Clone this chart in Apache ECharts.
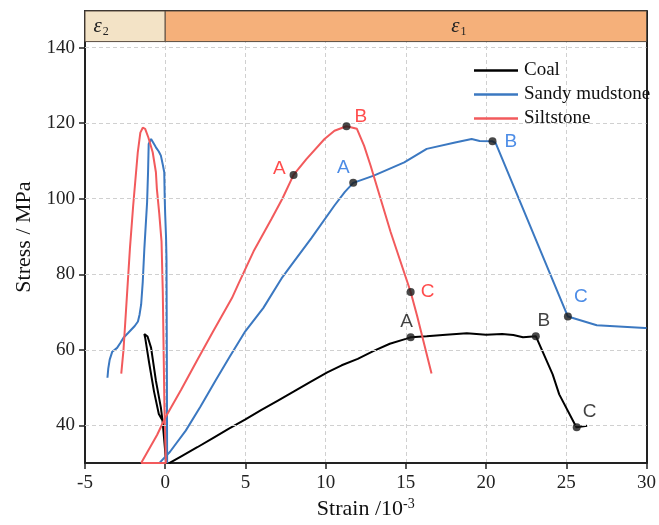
<!DOCTYPE html>
<html lang="en">
<head>
    <meta charset="UTF-8">
    <title>Stress-strain</title>
    <script src="https://cdn.jsdelivr.net/npm/echarts@6/dist/echarts.min.js"></script>
</head>
<body style="margin:0;background:#fff">
<div id="main" style="width:659px;height:525px"></div>
<script>
    // 曲线数据 [应变/10^-3, 应力/MPa]
    var coalPre = [[0.1,30],[0.04,31],[-0.06,37.7],[-0.27,44.7],[-0.58,51.8],[-0.88,60.5],[-1.1,63.5],[-1.3,64.2],[-1.35,64.5],
        [-1.25,63.2],[-1.0,56.5],[-0.7,49],[-0.4,43],[-0.17,41.3],[-0.08,37],[0.0,33],[0.05,30]];
    var coal = [[0.25,30],[1,31.8],[2,34.2],[3,36.7],[4,39.2],[5,41.6],[6,44.1],[7,46.5],[8,48.9],[9,51.4],[10.1,54],
        [11,55.9],[12,57.6],[13,59.7],[14,61.6],[15,62.9],[15.3,63.3],[16.3,63.6],[17.5,64],[18.8,64.4],[20,64],[21,64.2],
        [21.7,63.9],[22.3,63.3],[23.1,63.6],[24.15,53.5],[24.56,48.2],[25.63,39.5],[26.3,39.9]];
    var sandyPre = [[-3.6,52.6],[-3.55,55],[-3.46,57.4],[-3.3,59.5],[-3.0,60.5],[-2.8,61.8],[-2.6,63.2],[-2.3,64.5],[-1.9,66.3],
        [-1.7,67.5],[-1.6,69.3],[-1.5,72],[-1.4,78],[-1.3,86.8],[-1.2,94],[-1.13,99],[-1.07,107],[-1.03,114.5],[-0.88,115.8],
        [-0.58,113.6],[-0.4,112.5],[-0.27,111.4],[-0.15,109],[-0.06,107],[-0.03,100],[0,95.6],[0.05,90],[0.08,84.2],[0.1,60],[0.12,30]];
    var sandy = [[-0.37,30],[0.3,33],[1.28,38.6],[2.2,45],[3.13,51.8],[4,58],[4.99,64.9],[6.12,71.1],[7.25,78.9],[7.87,82.5],
        [9.1,89.5],[10.55,98.2],[11.2,101.8],[11.72,104.2],[13,106.1],[14.9,109.6],[16.3,113.2],[18.07,114.9],[19.1,115.8],
        [19.6,115.3],[20.4,115.2],[20.6,114.7],[25.1,68.8],[26.9,66.5],[29.9,65.8],[30,65.8]];
    var siltPre = [[-2.74,53.7],[-2.6,60],[-2.45,70],[-2.2,86.8],[-2.0,98],[-1.71,112.3],[-1.55,117.5],[-1.4,118.8],[-1.25,118.5],
        [-1.05,116.2],[-0.78,112.3],[-0.58,107],[-0.52,102.6],[-0.37,96],[-0.23,88.7],[-0.15,75],[-0.1,60],[-0.05,45],[0.04,30],[-1.5,30]];
    var silt = [[-1.5,30],[-0.5,37.5],[0,42],[1,49.5],[2,57.3],[3,65],[4.16,73.7],[4.57,77.5],[5.5,86],[6.63,94.7],[7.3,100],
        [8.0,106.3],[8.8,110.5],[9.93,115.8],[10.55,118.0],[11.3,119.2],[11.95,118.5],[12.4,114],[12.8,108.8],[14.05,91.2],
        [15.3,75.3],[15.7,69],[16.6,53.7]];

    // 特征点 A B C
    var ptNames = ['A', 'B', 'C'];
    var siltPtX = [8.0, 11.3, 15.3], siltPtY = [106.3, 119.2, 75.3];
    var sandyPtX = [11.72, 20.4, 25.1], sandyPtY = [104.2, 115.2, 68.8];
    var coalPtX = [15.3, 23.1, 25.65], coalPtY = [63.3, 63.6, 39.5];

    var yTicks = [40, 60, 80, 100, 120, 140];
    var bandBottom = 141.6, yMax = 149.7;

    var serif = "'Liberation Serif', 'Times New Roman', serif";
    var sans = "'Liberation Sans', Arial, sans-serif";
    var cCoal = '#000000', cSandy = '#3b78c1', cSilt = '#f25a5c';

    function pts(xs, ys, labelColor, labelCfg) {
        var out = [];
        for (var i = 0; i < xs.length; i++) {
            out.push({value: [xs[i], ys[i]], name: ptNames[i],
                label: Object.assign({show: true, formatter: '{b}', color: labelColor,
                    fontFamily: sans, fontSize: 19}, labelCfg[i])});
        }
        return out;
    }

    function lineSeries(name, data, color) {
        return {name: name, type: 'line', data: data, symbol: 'none', silent: true,
            lineStyle: {color: color, width: 2}, itemStyle: {color: color}, z: 3};
    }

    function bandLabel(sub, cfg) {
        return Object.assign({show: true, formatter: '{e|ε}{s|' + sub + '}',
            rich: {e: {fontFamily: serif, fontStyle: 'italic', fontSize: 21, color: '#222'},
                s: {fontFamily: serif, fontSize: 12, color: '#222', verticalAlign: 'bottom', padding: [12, 0, 0, 1]}}}, cfg);
    }

    // 上、右边框
    var frameAxis = {
        axisLine: {onZero: false, lineStyle: {color: '#222', width: 2}},
        axisTick: {show: false}, axisLabel: {show: false}, splitLine: {show: false}
    };

    var chart = echarts.init(document.getElementById('main'));
    var option = {
        backgroundColor: '#fff',
        animation: false,
        grid: {left: 85, right: 8, top: 11, bottom: 58},
        legend: {
            data: ['Coal', 'Sandy mudstone', 'Siltstone'],
            orient: 'vertical', left: 469, top: 56, itemWidth: 44, itemHeight: 2.5, itemGap: 5,
            icon: 'rect',
            textStyle: {fontFamily: serif, fontSize: 19, color: '#111', padding: [0, 0, 0, 1]}
        },
        xAxis: [{
            type: 'value', min: -5, max: 30, interval: 5,
            name: 'Strain /10{sup|-3}', nameLocation: 'middle', nameGap: 31,
            nameTextStyle: {fontFamily: serif, fontSize: 22, color: '#111',
                rich: {sup: {fontFamily: serif, fontSize: 14, color: '#111', verticalAlign: 'top', padding: [0, 0, 10, 0]}}},
            axisLine: {onZero: false, lineStyle: {color: '#222', width: 2}},
            axisTick: {inside: false, length: 6, lineStyle: {color: '#222', width: 1.5}},
            axisLabel: {fontFamily: serif, fontSize: 19, color: '#222', margin: 10},
            splitLine: {show: true, lineStyle: {type: [4, 3], color: '#d0d0d0', width: 1}}
        }, Object.assign({type: 'value', position: 'top', min: -5, max: 30}, frameAxis)],
        yAxis: [{
            type: 'value', min: 30, max: yMax,
            name: 'Stress / MPa', nameLocation: 'middle', nameGap: 48,
            nameTextStyle: {fontFamily: serif, fontSize: 22, color: '#111'},
            axisLine: {onZero: false, lineStyle: {color: '#222', width: 2}},
            axisTick: {inside: false, length: 6, lineStyle: {color: '#222', width: 1.5}, customValues: yTicks},
            axisLabel: {fontFamily: serif, fontSize: 19, color: '#222', margin: 10, customValues: yTicks},
            splitLine: {show: false}
        }, Object.assign({type: 'value', position: 'right', min: 30, max: yMax}, frameAxis)],
        series: [
            {
                type: 'line', data: [[-5, 30]], symbol: 'none', silent: true, z: 1,
                markLine: {
                    silent: true, symbol: 'none', label: {show: false},
                    lineStyle: {type: [4, 3], color: '#d0d0d0', width: 1},
                    data: yTicks.map(function (v) { return {yAxis: v}; })
                },
                markArea: {
                    silent: true,
                    itemStyle: {borderColor: '#5a4d40', borderWidth: 1},
                    data: [
                        [{xAxis: -5, yAxis: bandBottom, itemStyle: {color: '#f3e3c6'},
                            label: bandLabel('2', {position: 'insideLeft', offset: [4, 0]})},
                            {xAxis: 0, yAxis: yMax}],
                        [{xAxis: 0, yAxis: bandBottom, itemStyle: {color: '#f5b07a'},
                            label: bandLabel('1', {position: 'inside', offset: [53, 0]})},
                            {xAxis: 30, yAxis: yMax}]
                    ]
                }
            },
            lineSeries('Coal', coalPre, cCoal),
            lineSeries('Coal', coal, cCoal),
            lineSeries('Sandy mudstone', sandyPre, cSandy),
            lineSeries('Sandy mudstone', sandy, cSandy),
            lineSeries('Siltstone', siltPre, cSilt),
            lineSeries('Siltstone', silt, cSilt),
            {
                type: 'scatter', symbolSize: 8, itemStyle: {color: '#1a1a1a'}, z: 5, silent: true,
                data: pts(siltPtX, siltPtY, '#ff1f1f', [
                    {position: 'left', distance: 4, offset: [0, -6]},
                    {position: 'right', distance: 4, offset: [0, -9]},
                    {position: 'right', distance: 6, offset: [0, 0]}])
                    .concat(pts(sandyPtX, sandyPtY, '#1f6fe0', [
                        {position: 'top', distance: 2, offset: [-10, 0]},
                        {position: 'right', distance: 8, offset: [0, 0]},
                        {position: 'right', distance: 2, offset: [0, -20]}]))
                    .concat(pts(coalPtX, coalPtY, '#111', [
                        {position: 'top', distance: 2, offset: [-4, 0]},
                        {position: 'top', distance: 2, offset: [8, 0]},
                        {position: 'top', distance: 2, offset: [13, 0]}]))
            }
        ]
    };
    chart.setOption(option);
</script>
</body>
</html>
